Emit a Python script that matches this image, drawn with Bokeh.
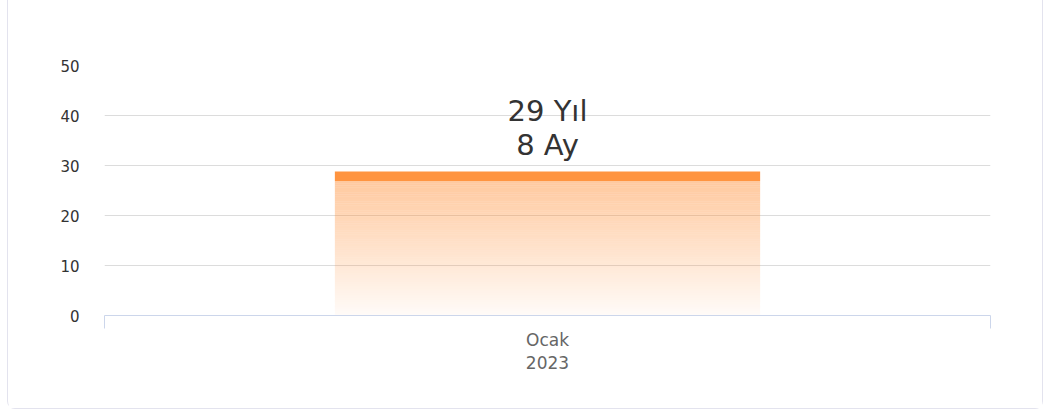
import numpy as np
from bokeh.plotting import figure
from bokeh.models import FixedTicker, ColumnDataSource, Range1d
from bokeh.core.properties import value
from bokeh.embed import file_html
from bokeh.resources import INLINE

# ---- data ----
categories = ["Ocak\n2023"]
values = [28.8]
labels = ["29 Yıl\n8 Ay"]
y_ticks = [0, 10, 20, 30, 40, 50]

FONT = "DejaVu Sans"
ORANGE = "#ff9440"

p = figure(width=1036, height=409, output_backend="svg", toolbar_location=None,
           x_range=Range1d(-0.5, 0.5), y_range=Range1d(0, 50))
p.styles = {"border": "1px solid #e3e3ee", "border-top": "none",
            "border-radius": "0 0 8px 8px", "margin-left": "7px"}
p.min_border_left = 96
p.min_border_right = 54
p.min_border_top = 65
p.min_border_bottom = 94
p.outline_line_color = None
p.background_fill_color = "white"
p.border_fill_color = "white"

# y axis
p.yaxis.ticker = FixedTicker(ticks=y_ticks)
p.yaxis.axis_line_color = None
p.yaxis.major_tick_line_color = None
p.yaxis.minor_tick_line_color = None
p.yaxis.major_label_text_font = FONT
p.yaxis.major_label_text_font_size = "15px"
p.yaxis.major_label_text_color = "#333333"
p.yaxis.major_label_standoff = 19
p.ygrid.grid_line_color = "#dcdcdc"
p.ygrid.grid_line_width = 1

# x axis: one category at centre, boundary ticks as minor ticks
xpos = list(range(len(categories)))
p.xaxis.ticker = FixedTicker(ticks=xpos, minor_ticks=[-0.5, 0.5])
p.xaxis.major_label_overrides = {i: c for i, c in zip(xpos, categories)}
p.xaxis.axis_line_color = "#ccd6eb"
p.xaxis.major_tick_line_color = None
p.xaxis.major_tick_out = 0
p.xaxis.minor_tick_line_color = "#ccd6eb"
p.xaxis.minor_tick_out = 13
p.xaxis.minor_tick_in = 0
p.xaxis.major_label_text_font = FONT
p.xaxis.major_label_text_font_size = "17px"
p.xaxis.major_label_text_color = "#666666"
p.xaxis.major_label_standoff = 1
p.xaxis.major_label_text_line_height = 1.15
p.xgrid.grid_line_color = None

# bar with vertical gradient (stacked slices with decreasing alpha)
N = 60
band = 1.9
for x, v in zip(xpos, values):
    body_top = v - band
    edges = np.linspace(0, body_top, N + 1)
    alphas = np.linspace(0.04, 0.5, N)
    src = ColumnDataSource(dict(x=[x] * N, bottom=edges[:-1], top=edges[1:], alpha=alphas))
    p.vbar(x="x", bottom="bottom", top="top", width=0.48, source=src,
           fill_color=ORANGE, fill_alpha="alpha", line_color=None)
    p.vbar(x=[x], bottom=[body_top], top=[v], width=0.48,
           fill_color=ORANGE, line_color=None)

# data label
p.text(x=xpos, y=values, text=labels, text_align="center", text_baseline="bottom",
       y_offset=-9, text_font=value(FONT), text_font_size="29px",
       text_color="#333333", text_line_height=1.02)

open("out.html", "w").write(file_html(p, INLINE))
